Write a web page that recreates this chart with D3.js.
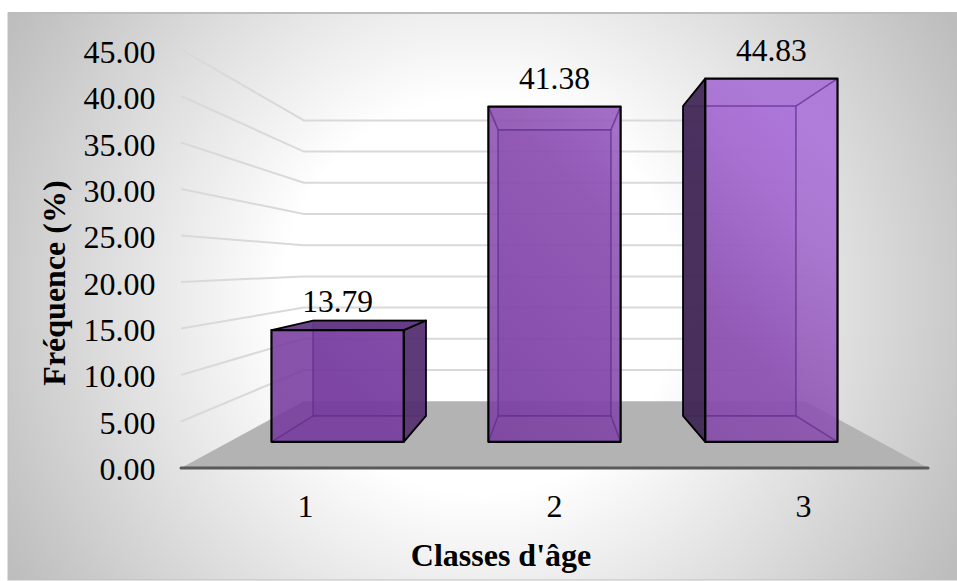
<!DOCTYPE html>
<html>
<head>
<meta charset="utf-8">
<script src="https://cdn.jsdelivr.net/npm/d3@7"></script>
<style>
html,body{margin:0;padding:0;background:#fff}
svg{display:block}
text{font-family:"Liberation Serif","Times New Roman",serif;fill:#000}
</style>
</head>
<body>
<svg id="chart" width="957" height="581"></svg>
<script>
// Age-class frequencies
const categories = ["1", "2", "3"];
const frequencies = [13.79, 41.38, 44.83];
const yTicks = [0, 5, 10, 15, 20, 25, 30, 35, 40, 45];
const yTitle = "Fréquence (%)";
const xTitle = "Classes d'âge";

const svg = d3.select("#chart");

// Scales on the front plane of the 3-D box
const x = d3.scaleBand().domain(categories).range([181, 928]).paddingInner(0.39).paddingOuter(0.195);
const y = d3.scaleLinear().domain([0, 45]).range([468, 49.5]);
const yLabel = d3.scaleLinear().domain([0, 45]).range([480, 63]);

// Perspective: points shrink toward a vanishing point as depth grows
const vanish = {x: 554.5, y: 265};
const depth = {plane: 1, barFront: 0.871, barBack: 0.743, wall: 0.671};
const project = (px, py, s) => [vanish.x + (px - vanish.x) * s, vanish.y + (py - vanish.y) * s];

const defs = svg.append("defs");
const bg = defs.append("radialGradient").attr("id", "bg").attr("gradientUnits", "userSpaceOnUse")
  .attr("cx", 480).attr("cy", 296).attr("r", 545);
bg.append("stop").attr("offset", 0.36).attr("stop-color", "#ffffff");
bg.append("stop").attr("offset", 1).attr("stop-color", "#bdbdbd");

const purple = defs.append("linearGradient").attr("id", "purple").attr("gradientUnits", "userSpaceOnUse")
  .attr("x1", 400).attr("y1", 441).attr("x2", 760).attr("y2", 78);
[[0, "#763a9e"], [0.6, "#8c50b1"], [0.85, "#a268ce"], [1, "#aa70da"]].forEach(([o, c]) =>
  purple.append("stop").attr("offset", o).attr("stop-color", c));

// Chart area background and its heavier top edge
svg.append("rect").attr("x", 8).attr("y", 13).attr("width", 949).attr("height", 567)
  .attr("fill", "url(#bg)").attr("stroke", "#bfbfbf").attr("stroke-width", 1);
svg.append("line").attr("x1", 8).attr("x2", 957).attr("y1", 13).attr("y2", 13)
  .attr("stroke", "#bdbdbd").attr("stroke-width", 2);

// Floor
const floorPts = [project(181, y(0), 1), project(181, y(0), depth.wall), project(928, y(0), depth.wall), project(928, y(0), 1)];
svg.append("polygon").attr("points", floorPts.join(" ")).attr("fill", "#b3b3b3");

// Gridlines: slanted along the side wall, then flat across the back wall
svg.append("g").selectAll("polyline").data(yTicks.filter(d => d > 0)).join("polyline")
  .attr("points", d => [project(181, y(d), 1), project(181, y(d), depth.wall), project(928, y(d), depth.wall)].join(" "))
  .attr("fill", "none").attr("stroke", "#d9d9d9").attr("stroke-width", 2);

// Baseline
svg.append("line").attr("x1", 181).attr("x2", 928).attr("y1", y(0)).attr("y2", y(0))
  .attr("stroke", "#595959").attr("stroke-width", 3).attr("stroke-linecap", "round");

// Boxes: hidden faces first, then outward faces, then the translucent front
const bars = categories.map((c, i) => {
  const v = frequencies[i], l = x(c), r = l + x.bandwidth(), t = y(v), b = y(0);
  const f = depth.barFront, k = depth.barBack;
  return {
    c, v,
    FTL: project(l, t, f), FTR: project(r, t, f), FBL: project(l, b, f), FBR: project(r, b, f),
    BTL: project(l, t, k), BTR: project(r, t, k), BBL: project(l, b, k), BBR: project(r, b, k)
  };
});

const face = (g, pts, fill, opacity, stroke, sw) => g.append("polygon")
  .attr("points", pts.join(" ")).attr("fill", fill).attr("fill-opacity", opacity)
  .attr("stroke", stroke).attr("stroke-width", sw).attr("stroke-linejoin", "round");

bars.forEach(d => {
  const g = svg.append("g");
  const inner = "#5e2b8c";
  const left = [d.FTL, d.BTL, d.BBL, d.FBL], right = [d.FTR, d.BTR, d.BBR, d.FBR];
  const top = [d.FTL, d.FTR, d.BTR, d.BTL], bottom = [d.FBL, d.FBR, d.BBR, d.BBL];
  const leftOut = d.BTL[0] < d.FTL[0], rightOut = d.BTR[0] > d.FTR[0], topOut = d.BTL[1] < d.FTL[1];

  // Interior faces, seen through the front
  face(g, [d.BTL, d.BTR, d.BBR, d.BBL], "url(#purple)", 0.6, "none", 0);
  face(g, bottom, "#5f2a86", 0.3, "none", 0);
  if (!leftOut) face(g, left, "#6a3398", 0.12, "none", 0);
  if (!rightOut) face(g, right, "#6a3398", 0.12, "none", 0);
  if (!topOut) face(g, top, "#5f2a86", 0.25, "none", 0);

  // Front panel
  face(g, [d.FTL, d.FTR, d.FBR, d.FBL], "url(#purple)", 0.85, "none", 0);

  // Interior edges
  g.append("path").attr("fill", "none").attr("stroke", inner).attr("stroke-opacity", 0.7).attr("stroke-width", 1.6)
    .attr("d", d3.line()([d.BTL, d.BTR, d.BBR, d.BBL, d.BTL]));
  g.append("path").attr("fill", "none").attr("stroke", inner).attr("stroke-opacity", 0.7).attr("stroke-width", 1.6)
    .attr("d", [[d.FBL, d.BBL], [d.FBR, d.BBR], ...(!topOut ? [[d.FTL, d.BTL], [d.FTR, d.BTR]] : [])]
      .map(s => d3.line()(s)).join(""));

  // Outward faces
  if (leftOut) face(g, left, "#3d2550", 0.9, "#000", 1.8);
  if (rightOut) face(g, right, "#55316f", 0.9, "#000", 1.8);
  if (topOut) face(g, top, "#5f3580", 0.92, "#000", 1.8);

  // Front outline
  face(g, [d.FTL, d.FTR, d.FBR, d.FBL], "none", 0, "#000", 2.2);

  // Value label
  svg.append("text").attr("class", "value")
    .attr("x", (d.FTL[0] + d.FTR[0]) / 2).attr("y", d.FTL[1] - 18)
    .attr("text-anchor", "middle").attr("font-size", 31.5).text(d.v.toFixed(2));
});

// Value axis labels
svg.append("g").selectAll("text").data(yTicks).join("text")
  .attr("x", 155.5).attr("y", d => yLabel(d))
  .attr("text-anchor", "end").attr("font-size", 32).text(d => d.toFixed(2));

// Category labels
svg.append("g").selectAll("text").data(categories).join("text")
  .attr("x", d => x(d) + x.bandwidth() / 2).attr("y", 517)
  .attr("text-anchor", "middle").attr("font-size", 32).text(d => d);

// Axis titles
svg.append("text").attr("x", 501).attr("y", 566).attr("text-anchor", "middle")
  .attr("font-size", 32).attr("font-weight", "bold").text(xTitle);
svg.append("text").attr("transform", "translate(65,283) rotate(-90)").attr("text-anchor", "middle")
  .attr("font-size", 32).attr("font-weight", "bold").text(yTitle);
</script>
</body>
</html>
